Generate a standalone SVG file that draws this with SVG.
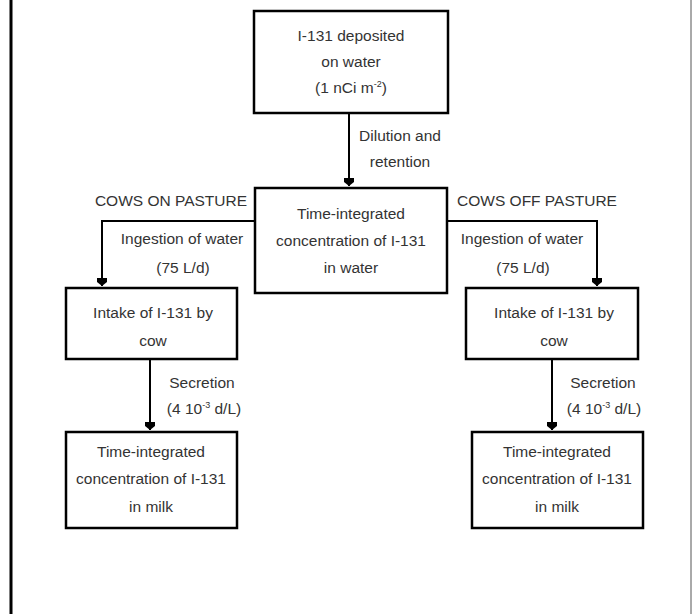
<svg xmlns="http://www.w3.org/2000/svg" width="692" height="614" viewBox="0 0 692 614">
<defs>
<marker id="ah" viewBox="-9 -6 10 12" markerWidth="10" markerHeight="12" refX="0" refY="0" orient="auto" markerUnits="userSpaceOnUse">
<path d="M0,0 L-4,-5 L-8,-5 L-8,5 L-4,5 Z" fill="#000"/>
</marker>
</defs>
<style>
text{font-family:"Liberation Sans",Arial,sans-serif;font-size:15.5px;fill:#333;text-anchor:middle}
.box{fill:#fff;stroke:#000;stroke-width:2.5}
.con{fill:none;stroke:#000;stroke-width:2}
.sup{font-size:9px}
</style>
<rect width="692" height="614" fill="#fff"/>
<line x1="11" y1="0" x2="11" y2="614" stroke="#000" stroke-width="3"/>
<line x1="691" y1="0" x2="691" y2="614" stroke="#555" stroke-width="1"/>
<g id="connectors">
<path class="con" d="M349,113 V186" marker-end="url(#ah)"/>
<path class="con" d="M255,221 H102 V286" marker-end="url(#ah)"/>
<path class="con" d="M447,221 H597 V286" marker-end="url(#ah)"/>
<path class="con" d="M150,359 V430" marker-end="url(#ah)"/>
<path class="con" d="M552,359 V430" marker-end="url(#ah)"/>
</g>
<g id="labels">
<text x="400" y="141">Dilution and</text>
<text x="400" y="167">retention</text>
<text x="171" y="206">COWS ON PASTURE</text>
<text x="182" y="244">Ingestion of water</text>
<text x="183" y="273">(75 L/d)</text>
<text x="537" y="206">COWS OFF PASTURE</text>
<text x="522" y="244">Ingestion of water</text>
<text x="523" y="273">(75 L/d)</text>
<text x="202" y="388">Secretion</text>
<text x="204" y="414">(4 10<tspan class="sup" dy="-6">-3</tspan><tspan dy="6"> d/L)</tspan></text>
<text x="603" y="388">Secretion</text>
<text x="604" y="414">(4 10<tspan class="sup" dy="-6">-3</tspan><tspan dy="6"> d/L)</tspan></text>
</g>
<g id="deposit">
<rect class="box" x="254" y="11" width="194" height="102"/>
<text x="351" y="41">I-131 deposited</text>
<text x="351" y="67">on water</text>
<text x="351" y="93">(1 nCi m<tspan class="sup" dy="-6">-2</tspan><tspan dy="6">)</tspan></text>
</g>
<g id="water">
<rect class="box" x="255" y="188" width="192" height="105"/>
<text x="351" y="219">Time-integrated</text>
<text x="351" y="246">concentration of I-131</text>
<text x="351" y="273">in water</text>
</g>
<g id="intake-on">
<rect class="box" x="66" y="288" width="171" height="71"/>
<text x="153" y="318">Intake of I-131 by</text>
<text x="153" y="346">cow</text>
</g>
<g id="intake-off">
<rect class="box" x="466" y="288" width="172" height="71"/>
<text x="554" y="318">Intake of I-131 by</text>
<text x="554" y="346">cow</text>
</g>
<g id="milk-on">
<rect class="box" x="66" y="432" width="171" height="96"/>
<text x="151" y="457">Time-integrated</text>
<text x="151" y="484">concentration of I-131</text>
<text x="151" y="512">in milk</text>
</g>
<g id="milk-off">
<rect class="box" x="472" y="432" width="171" height="96"/>
<text x="557" y="457">Time-integrated</text>
<text x="557" y="484">concentration of I-131</text>
<text x="557" y="512">in milk</text>
</g>
</svg>
